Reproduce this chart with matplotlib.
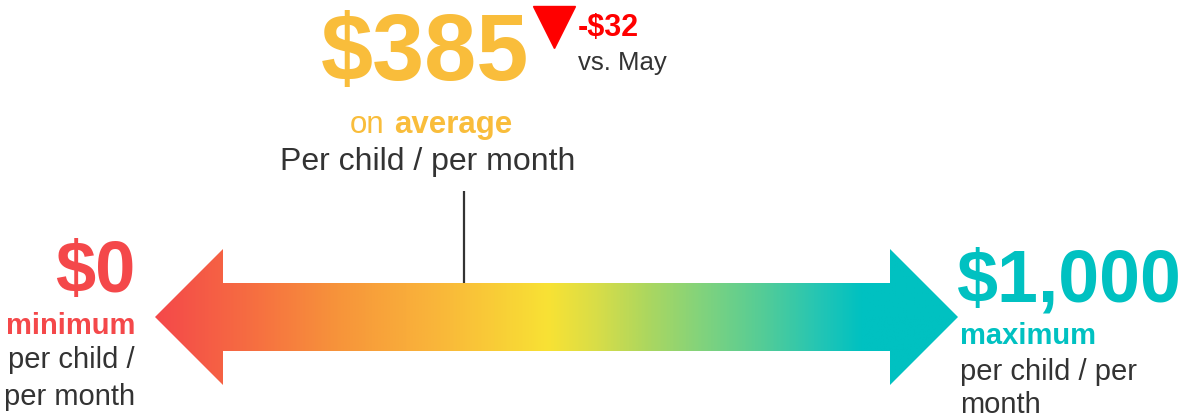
import numpy as np
import matplotlib.pyplot as plt
from matplotlib.colors import LinearSegmentedColormap
from matplotlib.patches import Polygon

plt.rcParams['font.family'] = ['Liberation Sans', 'DejaVu Sans']

# data
scale_min = 0
scale_max = 1000
average = 385
change = -32
compare_month = "May"

RED = "#F4484A"
TEAL = "#00C1C1"
GOLD = "#F9BD3B"
DARK = "#333333"

# gradient stops along the arrow (fraction, colour)
grad_stops = [(0.00, "#F4484A"), (0.12, "#F66E41"), (0.23, "#F7953A"),
              (0.35, "#FAB63A"), (0.49, "#F8E234"), (0.55, "#D8DD48"),
              (0.61, "#AED75E"), (0.68, "#82D37C"), (0.76, "#52CC98"),
              (0.83, "#22C5B5"), (0.88, "#00C1C1"), (1.00, "#00C1C1")]

fig = plt.figure(figsize=(11.84, 4.19), dpi=100)
ax = fig.add_axes([0, 0, 1, 1])
ax.axis('off')

# x axis in dollars: arrow tips sit on min and max
span = scale_max - scale_min
def px(x):
    return (x - 155) * span / 803 + scale_min

xlim = (px(0), px(1184))

# arrow shape
head = 68 * span / 803
yc, body, hh = 317, 34, 68
verts = [(scale_min, yc), (scale_min + head, yc - hh), (scale_min + head, yc - body),
         (scale_max - head, yc - body), (scale_max - head, yc - hh), (scale_max, yc),
         (scale_max - head, yc + hh), (scale_max - head, yc + body),
         (scale_min + head, yc + body), (scale_min + head, yc + hh)]
arrow = Polygon(verts, closed=True, facecolor='none', edgecolor='none')
ax.add_patch(arrow)
cmap = LinearSegmentedColormap.from_list('scale', grad_stops)
grad = np.linspace(0, 1, 512).reshape(1, -1)
im = ax.imshow(grad, cmap=cmap, extent=(scale_min, scale_max, yc + hh, yc - hh),
               aspect='auto', interpolation='bilinear')
im.set_clip_path(arrow)

# average marker
ax.plot([average, average], [191, yc - body], color=DARK, lw=1.6, solid_capstyle='butt')

# headline value
ax.text(px(425), 80, f"${average}", fontsize=67.5, fontweight='bold', color=GOLD,
        ha='center', va='baseline')
ax.plot([px(554)], [27], marker='v', markersize=30, color='#FF0000', linestyle='none')
ax.text(px(578), 36, f"-${abs(change)}", fontsize=22, fontweight='bold', color='#FF0000',
        ha='left', va='baseline')
ax.text(px(578), 70, f"vs. {compare_month}", fontsize=18.5, color=DARK,
        ha='left', va='baseline')
ax.text(px(350), 133, "on", fontsize=22.5, color=GOLD, ha='left', va='baseline')
ax.text(px(394), 133, "average", fontsize=22.5, fontweight='bold', color=GOLD,
        ha='left', va='baseline')
ax.text(px(428), 170, "Per child / per month", fontsize=23, color=DARK,
        ha='center', va='baseline')

# min label
ax.text(px(135), 292, f"${scale_min}", fontsize=52, fontweight='bold', color=RED,
        ha='right', va='baseline')
ax.text(px(135), 334, "minimum", fontsize=21, fontweight='bold', color=RED,
        ha='right', va='baseline')
ax.text(px(135), 368, "per child /", fontsize=21, color=DARK, ha='right', va='baseline')
ax.text(px(135), 405, "per month", fontsize=21, color=DARK, ha='right', va='baseline')

# max label
ax.text(px(957), 301, f"${scale_max:,}", fontsize=53, fontweight='bold', color=TEAL,
        ha='left', va='baseline')
ax.text(px(960), 344, "maximum", fontsize=21, fontweight='bold', color=TEAL,
        ha='left', va='baseline')
ax.text(px(960), 380, "per child / per", fontsize=21, color=DARK, ha='left', va='baseline')
ax.text(px(960), 413, "month", fontsize=21, color=DARK, ha='left', va='baseline')

ax.set_xlim(*xlim)
ax.set_ylim(419, 0)

fig.savefig("out.png", dpi=100)
